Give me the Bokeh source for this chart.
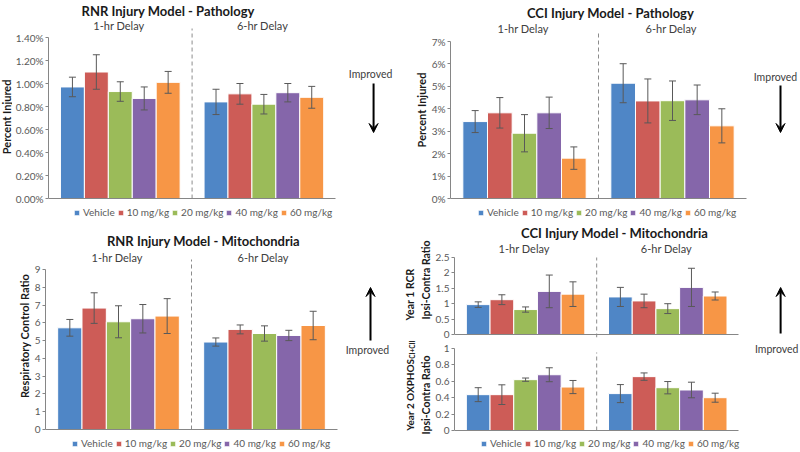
import numpy as np
from bokeh.plotting import figure
from bokeh.models import (ColumnDataSource, Range1d, Whisker, Label, Arrow, VeeHead,
                          Legend, LegendItem, LinearAxis, FixedTicker,
                          PrintfTickFormatter, CustomJSTickFormatter)
from bokeh.core.properties import value
from bokeh.transform import dodge
from bokeh.layouts import column, row
from bokeh.embed import file_html
from bokeh.resources import INLINE

# ---------------- data ----------------
delays = ["1-hr  Delay", "6-hr  Delay"]
doses = ["Vehicle", "10 mg/kg", "20 mg/kg", "40 mg/kg", "60 mg/kg"]
colors = ["#4F86C6", "#CD5C57", "#9BBB59", "#8566AA", "#F79646"]

# RNR Injury Model - Pathology (percent injured)
rnr_path_1hr = [0.97, 1.10, 0.93, 0.87, 1.01]
rnr_path_1hr_err = [0.085, 0.15, 0.085, 0.10, 0.095]
rnr_path_6hr = [0.84, 0.91, 0.82, 0.92, 0.88]
rnr_path_6hr_err = [0.11, 0.09, 0.085, 0.08, 0.095]

# CCI Injury Model - Pathology (percent injured)
cci_path_1hr = [3.43, 3.82, 2.91, 3.82, 1.80]
cci_path_1hr_err = [0.49, 0.68, 0.83, 0.70, 0.50]
cci_path_6hr = [5.14, 4.35, 4.36, 4.40, 3.24]
cci_path_6hr_err = [0.87, 0.98, 0.88, 0.66, 0.76]

# RNR Injury Model - Mitochondria (respiratory control ratio)
rnr_mito_1hr = [5.72, 6.83, 6.06, 6.23, 6.38]
rnr_mito_1hr_err = [0.47, 0.86, 0.90, 0.80, 0.98]
rnr_mito_6hr = [4.92, 5.63, 5.40, 5.29, 5.85]
rnr_mito_6hr_err = [0.23, 0.25, 0.43, 0.29, 0.80]

# CCI Injury Model - Mitochondria, Year 1 RCR ratio
cci_rcr_1hr = [0.97, 1.13, 0.81, 1.40, 1.31]
cci_rcr_1hr_err = [0.09, 0.16, 0.085, 0.53, 0.40]
cci_rcr_6hr = [1.22, 1.09, 0.84, 1.53, 1.25]
cci_rcr_6hr_err = [0.31, 0.22, 0.16, 0.62, 0.13]

# CCI Injury Model - Mitochondria, Year 2 OXPHOS ratio
cci_ox_1hr = [0.437, 0.437, 0.62, 0.68, 0.53]
cci_ox_1hr_err = [0.085, 0.12, 0.02, 0.085, 0.08]
cci_ox_6hr = [0.45, 0.657, 0.522, 0.494, 0.40]
cci_ox_6hr_err = [0.11, 0.045, 0.075, 0.095, 0.055]

FONT = "Lato"
offsets = [-0.3333, -0.1667, 0.0, 0.1667, 0.3333]
centers = list(np.arange(len(delays)) + 0.5)
BB = 3
LEG_SHIFT = 5


def make_panel(fx, fy, w, h, L, xr, yb, yt, ymax, step, fmt, m1, e1, m6, e6,
               ylabel=None, ylabel_size="11px", title=None, title_at=None,
               delay_y=None, sep=None, legend_at=None, improved_at=None, arrow=None):
    fl, fr, ft, fb = fx + L, fx + w, fy, fy + h - BB
    kx = 2.0 / (xr - fl)
    ky = ymax / (yb - yt)

    def d(px, py):
        return ((px - fl) * kx, (yb - py) * ky)

    p = figure(width=w, height=h,
               x_range=Range1d(0, (fr - fl) * kx),
               y_range=Range1d((yb - fb) * ky, (yb - ft) * ky),
               output_backend="svg", toolbar_location=None,
               x_axis_location=None, y_axis_location=None,
               min_border_left=L, min_border_right=0, min_border_top=0,
               min_border_bottom=BB,
               background_fill_color="white", border_fill_color="white",
               outline_line_color=None)
    p.xgrid.visible = False
    p.ygrid.visible = False

    ticks = [round(v, 6) for v in np.arange(0, ymax + step / 2, step)]
    ya = LinearAxis(ticker=FixedTicker(ticks=ticks), formatter=fmt, bounds=(0, ymax))
    ya.axis_line_color = "#868686"
    ya.major_tick_line_color = "#868686"
    ya.major_tick_out = 3
    ya.major_tick_in = 0
    ya.minor_tick_line_color = None
    ya.major_label_text_font = FONT
    ya.major_label_text_font_size = "10px"
    ya.major_label_text_color = "#595959"
    ya.major_label_standoff = 2
    if ylabel:
        ya.axis_label = ylabel
        ya.axis_label_text_font = FONT
        ya.axis_label_text_font_style = "bold"
        ya.axis_label_text_font_size = ylabel_size
        ya.axis_label_text_color = "#1a1a1a"
        ya.axis_label_standoff = 1
    p.add_layout(ya, "left")

    xb = LinearAxis(ticker=FixedTicker(ticks=[]), bounds=(0, 2), fixed_location=0)
    xb.axis_line_color = "#868686"
    xb.major_tick_line_color = None
    xb.minor_tick_line_color = None
    xb.major_tick_out = 0
    xb.major_label_standoff = 0
    p.add_layout(xb, "below")

    if delay_y is not None:
        _, dy = d(0, delay_y)
        p.text(x=centers, y=[dy] * len(delays), text=delays, text_align="center",
               text_baseline="middle", text_font=value(FONT), text_font_size="11px",
               text_color="#404040")

    if sep is not None:
        _, s0 = d(0, sep[0])
        _, s1 = d(0, sep[1])
        mid = len(delays) / 2
        p.segment(x0=[mid], y0=[s0], x1=[mid], y1=[s1], line_color="#8c8c8c",
                  line_dash="4 3", line_width=1)

    items = []
    for i, dz in enumerate(doses):
        src = ColumnDataSource(dict(x=centers, top=[m1[i], m6[i]],
                                    upper=[m1[i] + e1[i], m6[i] + e6[i]],
                                    lower=[m1[i] - e1[i], m6[i] - e6[i]]))
        rr = p.vbar(x=dodge("x", offsets[i]), top="top", width=0.1667,
                    source=src, fill_color=colors[i], line_color="white", line_width=1)
        wk = Whisker(source=src, base=dodge("x", offsets[i]),
                     upper="upper", lower="lower", line_color="#595959", line_width=1,
                     level="annotation")
        wk.upper_head.size = 7
        wk.lower_head.size = 7
        wk.upper_head.line_color = "#595959"
        wk.lower_head.line_color = "#595959"
        p.add_layout(wk)
        items.append(LegendItem(label=dz, renderers=[rr]))

    if legend_at:
        lx, ly = legend_at
        lg = Legend(items=items, orientation="horizontal",
                    location=(lx - LEG_SHIFT - fl, fb - (ly + 6)), margin=0, padding=0,
                    spacing=2, glyph_width=7, glyph_height=7, label_standoff=3,
                    label_height=12, label_text_font=FONT, label_text_font_size="10px",
                    label_text_color="#595959", border_line_color=None,
                    background_fill_alpha=0)
        p.add_layout(lg)

    if title:
        tx, ty = d(*title_at)
        p.add_layout(Label(x=tx, y=ty, text=title, text_align="center",
                           text_baseline="middle", text_font=FONT,
                           text_font_style="bold", text_font_size="13px",
                           text_color="#1a1a1a"))
    if improved_at:
        ix, iy = d(*improved_at)
        p.add_layout(Label(x=ix, y=iy, text="Improved", text_align="center",
                           text_baseline="middle", text_font=FONT,
                           text_font_size="10.5px", text_color="#404040"))
    if arrow:
        ax_, y0, y1 = arrow
        sx, sy = d(ax_, y0)
        ex, ey = d(ax_, y1)
        p.add_layout(Arrow(x_start=sx, y_start=sy, x_end=ex, y_end=ey,
                           line_color="black", line_width=2,
                           end=VeeHead(size=9, fill_color="black", line_color="black")))
    return p


def strip(x0, y0, w, h):
    s = figure(width=w, height=h, x_range=Range1d(x0, x0 + w), y_range=Range1d(y0 + h, y0),
               output_backend="svg", toolbar_location=None,
               x_axis_location=None, y_axis_location=None, min_border=0,
               background_fill_color="white", border_fill_color="white",
               outline_line_color=None)
    s.xgrid.visible = False
    s.ygrid.visible = False
    return s


def vlabel(s, x, y, text, size, align="center"):
    s.add_layout(Label(x=x, y=y, text=text, angle=np.pi / 2, text_align=align,
                       text_baseline="middle", text_font=FONT, text_font_style="bold",
                       text_font_size=size, text_color="#1a1a1a"))


pct2 = PrintfTickFormatter(format="%.2f%%")
pct0 = PrintfTickFormatter(format="%d%%")
intf = PrintfTickFormatter(format="%d")
plain = CustomJSTickFormatter(code="return String(Math.round(tick*10)/10);")

# strip for the top-left y-axis title
s1 = strip(0, 0, 12, 222)
vlabel(s1, 6, 118, "Percent Injured", "11px")

p1 = make_panel(12, 0, 388, 222, 35, 335, 198, 37, 1.4, 0.2, pct2,
                rnr_path_1hr, rnr_path_1hr_err, rnr_path_6hr, rnr_path_6hr_err,
                title="RNR Injury Model - Pathology",
                title_at=(167, 10), delay_y=25, sep=(198, 28), legend_at=(77, 212),
                improved_at=(370, 73), arrow=(373, 83, 132))

p2 = make_panel(400, 0, 400, 222, 50, 746, 198, 41, 7, 1, pct0,
                cci_path_1hr, cci_path_1hr_err, cci_path_6hr, cci_path_6hr_err,
                ylabel="Percent Injured", title="CCI Injury Model - Pathology",
                title_at=(610, 12), delay_y=28, sep=(198, 32), legend_at=(482, 212),
                improved_at=(775, 76), arrow=(780, 85, 132))

p3 = make_panel(0, 222, 400, 230, 45, 337, 429, 269, 9, 1, intf,
                rnr_mito_1hr, rnr_mito_1hr_err, rnr_mito_6hr, rnr_mito_6hr_err,
                ylabel="Respiratory Control Ratio", title="RNR Injury Model - Mitochondria",
                title_at=(203, 240), delay_y=257, sep=(429, 259), legend_at=(76, 443),
                improved_at=(367, 349), arrow=(370, 340, 287))

p4 = make_panel(416, 222, 384, 118, 36, 738, 334, 257, 2.5, 0.5, plain,
                cci_rcr_1hr, cci_rcr_1hr_err, cci_rcr_6hr, cci_rcr_6hr_err,
                ylabel="Ipsi-Contra Ratio", ylabel_size="10.5px",
                title="CCI Injury Model - Mitochondria", title_at=(613, 232),
                delay_y=248, sep=(337, 257), arrow=(780, 333, 287))

p5 = make_panel(416, 340, 384, 112, 36, 738, 430, 348, 1, 0.2, plain,
                cci_ox_1hr, cci_ox_1hr_err, cci_ox_6hr, cci_ox_6hr_err,
                ylabel="Ipsi-Contra Ratio", ylabel_size="10.5px",
                sep=(430, 352), legend_at=(483, 443), improved_at=(776, 348))

# strip holding the outer lines of the two stacked y-axis titles (bottom right)
s2 = strip(400, 222, 16, 230)
vlabel(s2, 409, 295, "Year 1 RCR", "10.5px")
vlabel(s2, 409, 360, "Year 2 OXPHOS", "10px", align="right")
vlabel(s2, 412, 360, "CI+CII", "6.5px", align="left")

layout = column(row(s1, p1, p2), row(p3, s2, column(p4, p5)))
open("out.html", "w").write(file_html(layout, INLINE))
